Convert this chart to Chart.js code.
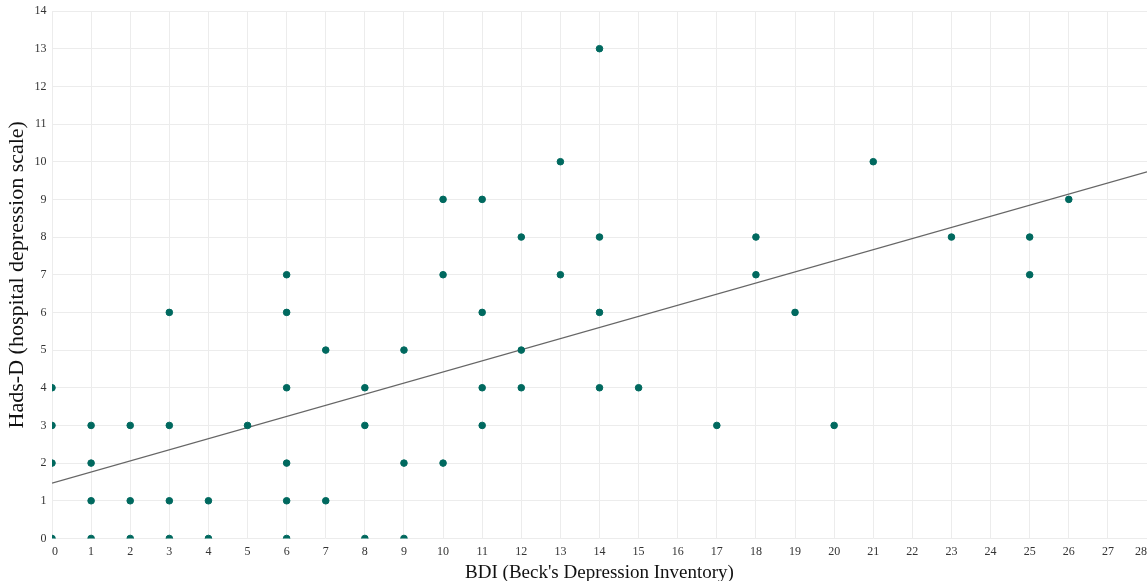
<!DOCTYPE html>
<html>
<head>
<meta charset="utf-8">
<script src="https://cdn.jsdelivr.net/npm/chart.js@4"></script>
<style>
html,body{margin:0;padding:0;background:#fff;}
#wrap{width:1147px;height:581px;position:relative;}
</style>
</head>
<body>
<div id="wrap"><canvas id="c"></canvas></div>
<script>
// BDI score (x) and Hads-D score (y), one entry per observation
const bdi  = [0,0,0,0, 1,1,1,1, 2,2,2, 3,3,3,3, 4,4, 5, 6,6,6,6,6,6, 7,7, 8,8,8, 9,9,9, 10,10,10, 11,11,11,11, 12,12,12, 13,13, 14,14,14,14, 15, 17, 18,18, 19, 20, 21, 23, 25,25, 26];
const hads = [0,2,3,4, 0,1,2,3, 0,1,3, 0,1,3,6, 0,1, 3, 0,1,2,4,6,7, 1,5, 0,3,4, 0,2,5, 2,7,9, 3,4,6,9, 4,5,8, 7,10, 4,6,8,13, 4, 3, 7,8, 6, 3, 10, 8, 7,8, 9];
// fitted trend line end points
const trendX = [0, 28];
const trendY = [1.47, 9.73];
const xTicks = [0,1,2,3,4,5,6,7,8,9,10,11,12,13,14,15,16,17,18,19,20,21,22,23,24,25,26,27,28];
const yTicks = [0,1,2,3,4,5,6,7,8,9,10,11,12,13,14];

const points = bdi.map((x, i) => ({x: x, y: hads[i]}));
const trend = trendX.map((x, i) => ({x: x, y: trendY[i]}));

const serif = "'Liberation Serif', 'DejaVu Serif', serif";

new Chart(document.getElementById('c'), {
  type: 'scatter',
  data: {
    datasets: [
      {
        type: 'line',
        data: trend,
        borderColor: '#666666',
        borderWidth: 1.3,
        pointRadius: 0,
        fill: false,
        clip: 0,
        order: 2
      },
      {
        data: points,
        backgroundColor: '#00695f',
        borderColor: '#00695f',
        pointRadius: 3.3,
        pointHoverRadius: 3.3,
        clip: 0,
        order: 1
      }
    ]
  },
  options: {
    responsive: true,
    maintainAspectRatio: false,
    animation: false,
    layout: {autoPadding: false, padding: {top: 11, right: 0, left: 0.5, bottom: 0}},
    plugins: {legend: {display: false}, tooltip: {enabled: false}},
    scales: {
      x: {
        type: 'linear',
        min: 0, max: 28,
        afterBuildTicks: (s) => { s.ticks = xTicks.map(v => ({value: v})); },
        afterFit: (s) => { s.paddingLeft = 0; s.paddingRight = 0; },
        grid: {color: '#ececec', drawTicks: false},
        border: {display: false},
        ticks: {
          align: 'inner',
          padding: 6,
          color: '#333',
          font: {family: serif, size: 12}
        },
        title: {
          display: true,
          text: "BDI (Beck's Depression Inventory)",
          color: '#111',
          font: {family: serif, size: 19, lineHeight: 0.85},
          padding: {top: 0, bottom: 0}
        }
      },
      y: {
        type: 'linear',
        min: 0, max: 14,
        afterBuildTicks: (s) => { s.ticks = yTicks.map(v => ({value: v})); },
        afterFit: (s) => { s.paddingTop = 0; s.paddingBottom = 0; },
        grid: {color: '#ececec', drawTicks: false},
        border: {display: false},
        ticks: {
          align: 'inner',
          padding: 5.5,
          color: '#333',
          font: {family: serif, size: 12}
        },
        title: {
          display: true,
          text: 'Hads-D (hospital depression scale)',
          color: '#111',
          font: {family: serif, size: 22, lineHeight: 1.0},
          padding: {top: 6, bottom: 0.5}
        }
      }
    }
  }
});
</script>
</body>
</html>
